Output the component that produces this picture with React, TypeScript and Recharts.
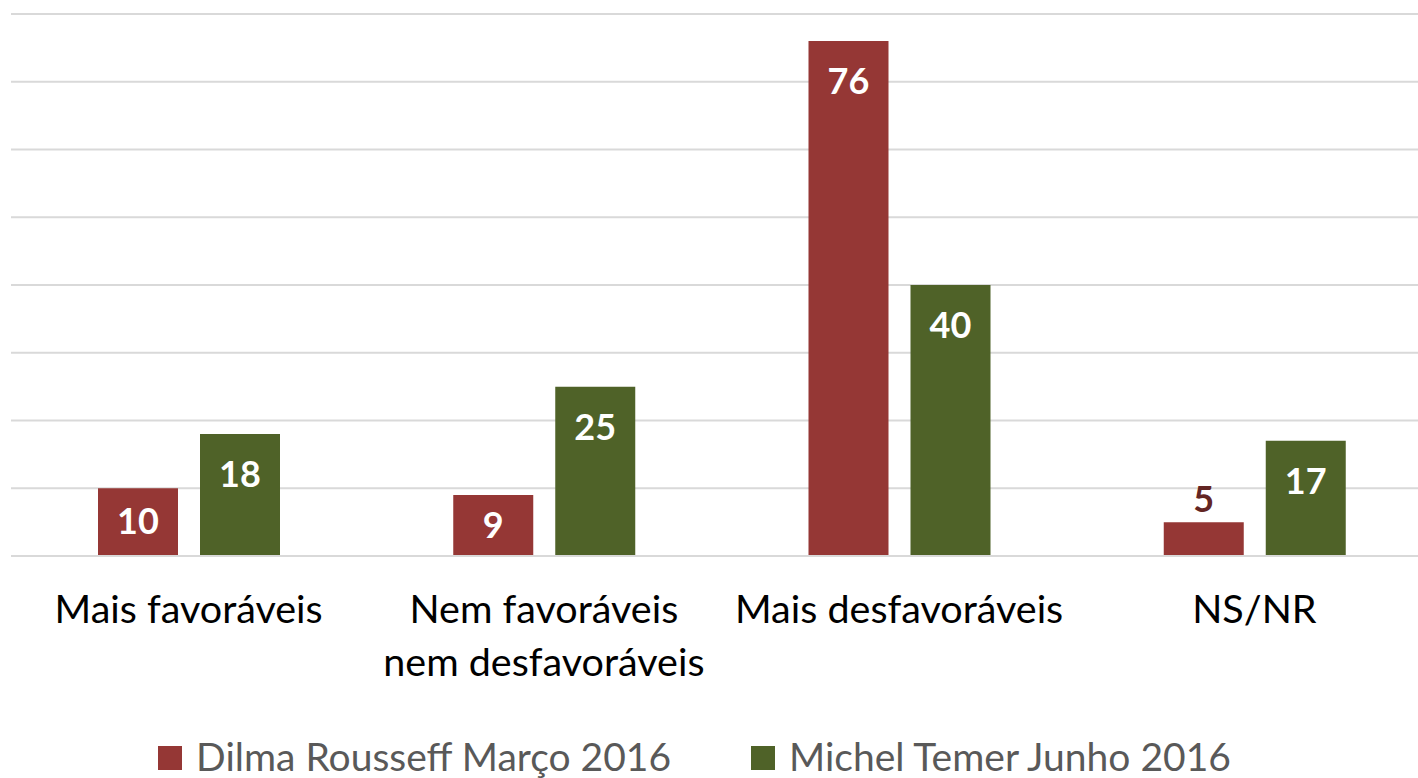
import React from "react";
import { BarChart, Bar, XAxis, YAxis, CartesianGrid, Legend, LabelList } from "recharts";

const categories = ["Mais favoráveis", "Nem favoráveis\nnem desfavoráveis", "Mais desfavoráveis", "NS/NR"];
const dilma = [10, 9, 76, 5];
const temer = [18, 25, 40, 17];
const yTicks = [0, 10, 20, 30, 40, 50, 60, 70, 80];
const seriesNames = ["Dilma Rousseff Março 2016", "Michel Temer Junho 2016"];

const RED = "#953735";
const GREEN = "#4f6228";
const FONT = "Lato, 'Open Sans', sans-serif";

const data = categories.map((c, i) => ({ name: c, dilma: dilma[i], temer: temer[i] }));

const CategoryTick = (props: any) => {
  const { x, y, payload } = props;
  const lines = String(payload.value).split("\n");
  return (
    <g transform={`translate(${x},${y})`}>
      {lines.map((l: string, i: number) => (
        <text
          key={i}
          x={0}
          y={i * 53 + 59}
          textAnchor="middle"
          fill="#000"
          fontFamily={FONT}
          fontSize={39.5}
        >
          {l}
        </text>
      ))}
    </g>
  );
};

const makeLabel = (darkColor: string) => (props: any) => {
  const { x, y, width, height, value } = props;
  const cx = x + width / 2;
  if (height < 50) {
    return (
      <text x={cx} y={y - 10} textAnchor="middle" fill={darkColor} fontFamily={FONT} fontSize={36} fontWeight={700}>
        {value}
      </text>
    );
  }
  const offset = Math.min(38, height / 2 - 3);
  return (
    <text x={cx} y={y + offset + 15} textAnchor="middle" fill="#fff" fontFamily={FONT} fontSize={36} fontWeight={700}>
      {value}
    </text>
  );
};

const LegendContent = () => {
  const colors = [RED, GREEN];
  return (
    <div
      style={{
        height: 44,
        marginBottom: 0,
        display: "flex",
        alignItems: "center",
        justifyContent: "center",
        fontFamily: FONT,
        fontSize: 39,
        lineHeight: "44px",
        color: "#595959",
        paddingRight: 54,
      }}
    >
      {seriesNames.map((n, i) => (
        <div key={n} style={{ display: "flex", alignItems: "center", marginLeft: i === 0 ? 0 : 80 }}>
          <span style={{ display: "inline-block", width: 24, height: 24, background: colors[i], marginRight: 14, marginTop: 4 }} />
          <span>{n}</span>
        </div>
      ))}
    </div>
  );
};

export default function App() {
  return (
    <div style={{ position: "absolute", left: 0, top: 0, width: 1418, height: 778, overflow: "hidden", background: "#fff" }}>
      <BarChart
        width={1440}
        height={778}
        data={data}
        margin={{ top: 14, right: 8, bottom: 0, left: 11 }}
        barSize={80}
        barGap={22}
      >
        <CartesianGrid vertical={false} stroke="#d9d9d9" strokeWidth={2} />
        <YAxis hide domain={[0, 80]} ticks={yTicks} width={0} />
        <XAxis
          dataKey="name"
          tick={<CategoryTick />}
          tickLine={false}
          axisLine={{ stroke: "#d9d9d9", strokeWidth: 2 }}
          height={178}
          interval={0}
        />
        <Legend verticalAlign="bottom" content={<LegendContent />} />
        <Bar dataKey="dilma" name={seriesNames[0]} fill={RED} isAnimationActive={false}>
          <LabelList dataKey="dilma" content={makeLabel("#632523")} />
        </Bar>
        <Bar dataKey="temer" name={seriesNames[1]} fill={GREEN} isAnimationActive={false}>
          <LabelList dataKey="temer" content={makeLabel("#3a4a1c")} />
        </Bar>
      </BarChart>
    </div>
  );
}
